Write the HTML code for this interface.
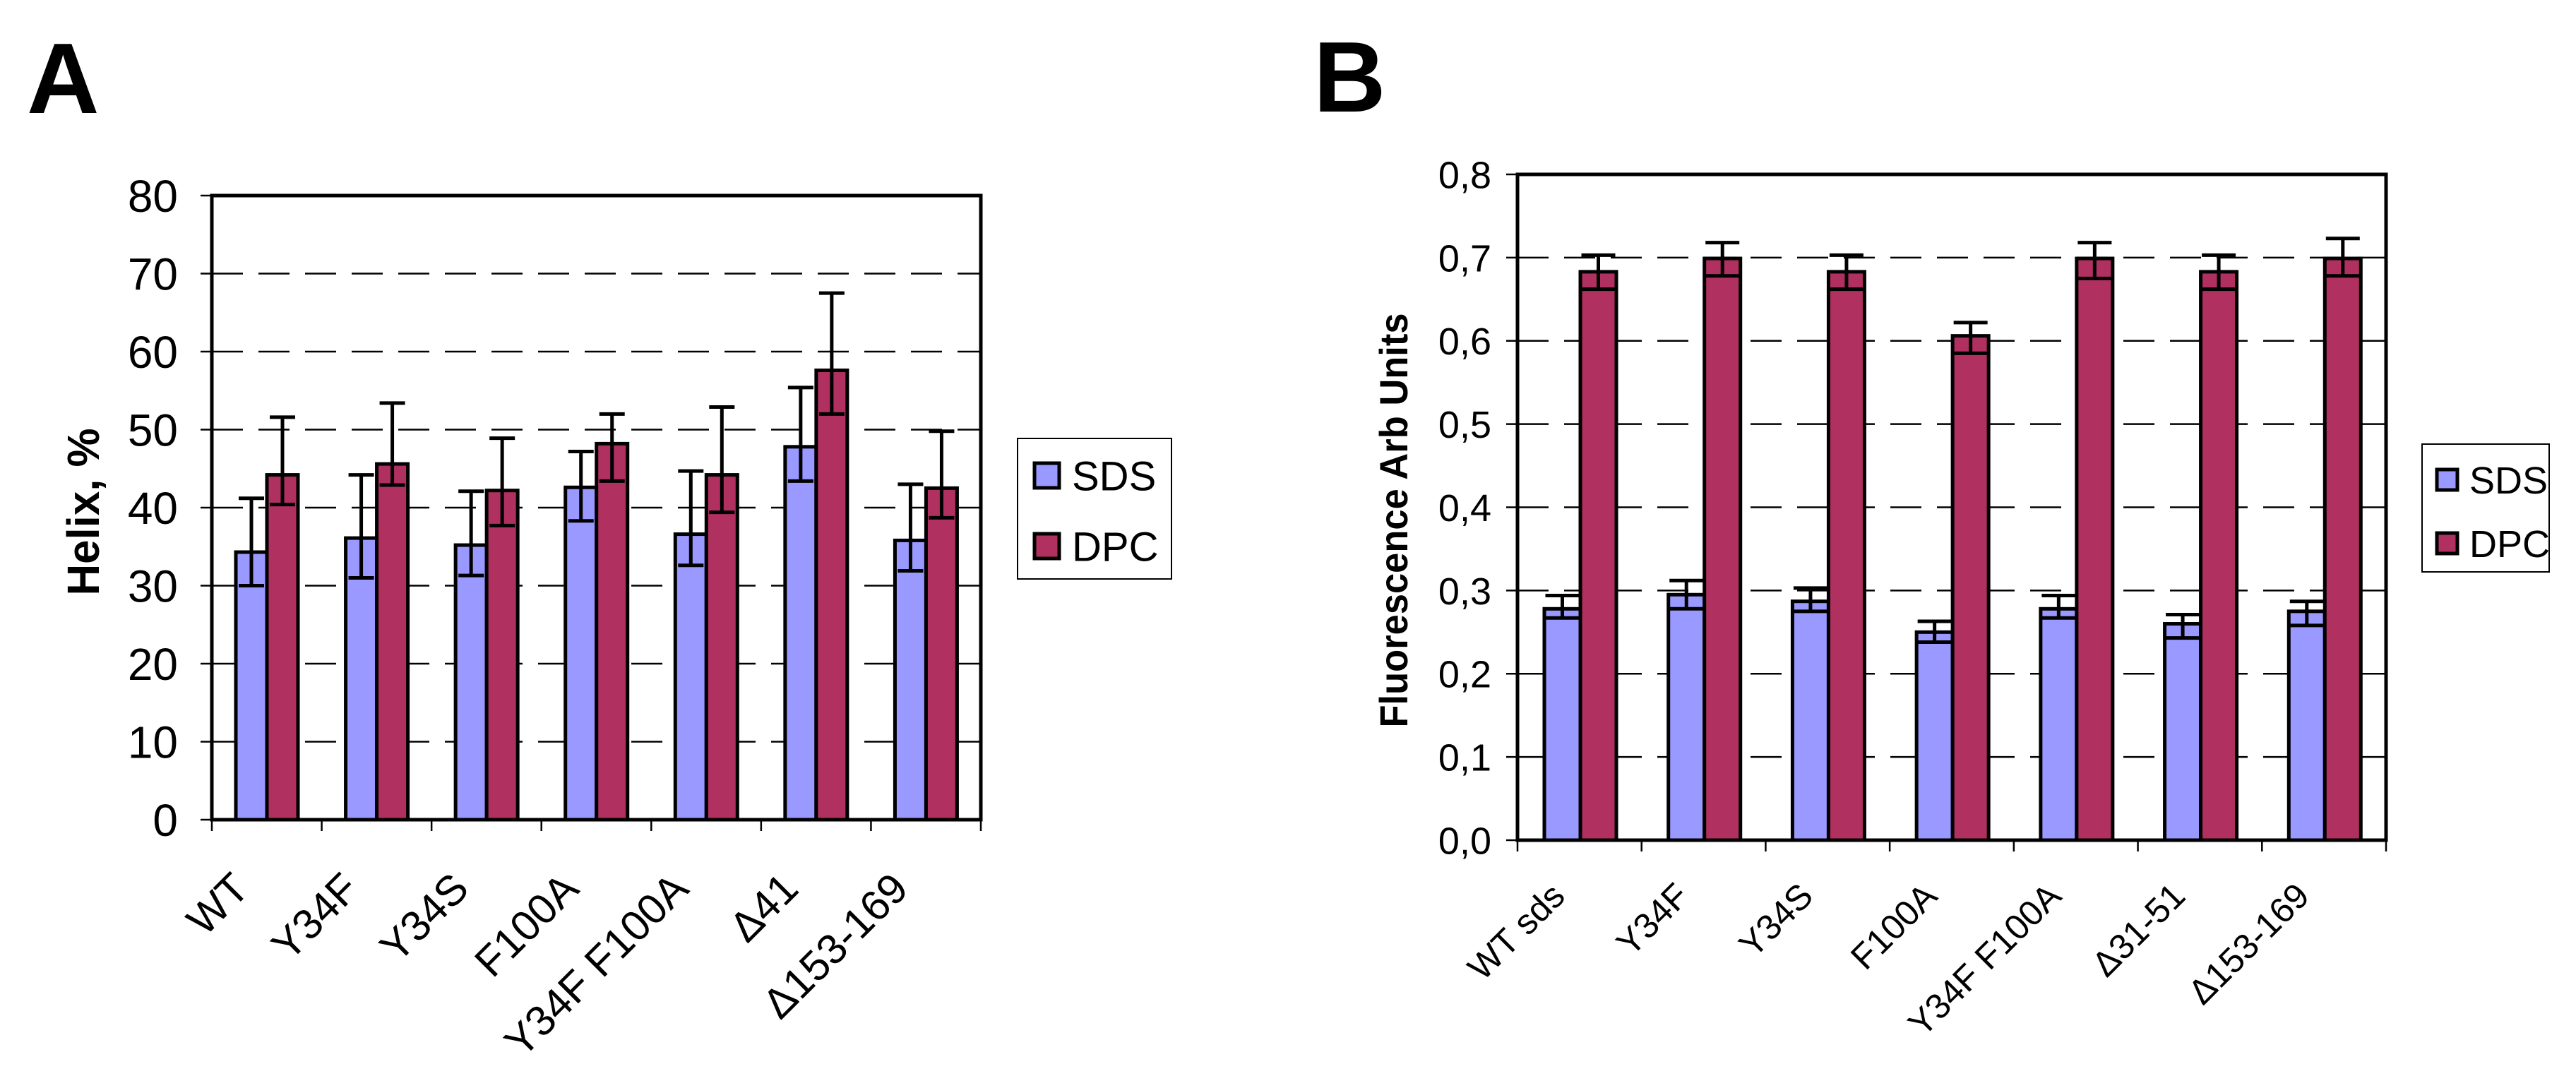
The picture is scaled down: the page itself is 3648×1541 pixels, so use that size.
<!DOCTYPE html>
<html><head><meta charset="utf-8"><style>
html,body{margin:0;padding:0;background:#fff;}
svg{display:block;font-family:"Liberation Sans",Arial,sans-serif;}
</style></head><body>
<svg id="fig" width="3648" height="1541" viewBox="0 0 3648 1541" xmlns="http://www.w3.org/2000/svg">
<rect x="0" y="0" width="3648" height="1541" fill="#fff"/>
<text x="38" y="160" font-size="142" font-weight="bold">A</text>
<text x="1860" y="158" font-size="142" font-weight="bold">B</text>
<g id="chartA"></g>
<g id="chartB"></g>
</svg>
<script>
// Panel A data
const catsA = ["WT","Y34F","Y34S","F100A","Y34F F100A","Δ41","Δ153-169"];
const sdsA = [34.3,36.1,35.2,42.6,36.6,47.8,35.8];
const sdsAUp = [6.9,8.1,6.9,4.6,8.1,7.6,7.2];
const sdsADown = [4.3,5.1,3.9,4.3,4.0,4.4,3.9];
const dpcA = [44.2,45.6,42.2,48.2,44.2,57.6,42.5];
const dpcAUp = [7.4,7.8,6.7,3.8,8.7,9.9,7.3];
const dpcADown = [3.8,2.7,4.5,4.8,4.8,5.6,3.8];
const ticksA = ["0","10","20","30","40","50","60","70","80"];
const tickValsA = [0,10,20,30,40,50,60,70,80];
// Panel B data
const catsB = ["WT sds","Y34F","Y34S","F100A","Y34F F100A","Δ31-51","Δ153-169"];
const sdsB = [0.278,0.295,0.287,0.250,0.278,0.260,0.275];
const sdsBUp = [0.016,0.017,0.016,0.013,0.016,0.011,0.012];
const sdsBDown = [0.011,0.017,0.012,0.012,0.011,0.017,0.017];
const dpcB = [0.683,0.699,0.683,0.606,0.699,0.683,0.699];
const dpcBUp = [0.020,0.019,0.020,0.016,0.019,0.020,0.024];
const dpcBDown = [0.021,0.021,0.021,0.021,0.024,0.021,0.021];
const ticksB = ["0,0","0,1","0,2","0,3","0,4","0,5","0,6","0,7","0,8"];
const tickValsB = [0,0.1,0.2,0.3,0.4,0.5,0.6,0.7,0.8];

const NS="http://www.w3.org/2000/svg";
function mk(tag, attrs, parent){const e=document.createElementNS(NS,tag);for(const k in attrs)e.setAttribute(k,attrs[k]);parent.appendChild(e);return e;}

function draw(g, cfg){
  const {L,T,R,B,max,cats,s1,s1u,s1d,s2,s2u,s2d,ticks,tickVals,tickFont,tickRight,barOff,barW,cap,labFont,labDx,labY,title,titleX,titleY,titleFont,titleLen,leg} = cfg;
  const y = v => B - (v/max)*(B-T);
  const gw = (R-L)/cats.length;
  const x = i => L + i*gw;
  tickVals.forEach((v,i)=>{
    if(v>0 && v<max){
      const gl = mk('line',{x1:L,x2:R,y1:y(v),y2:y(v),stroke:'#000','stroke-width':2.5,'stroke-dasharray':'44 22'},g);
      
      
    }
    const tk = mk('line',{x1:L-16,x2:L,y1:y(v),y2:y(v),stroke:'#000','stroke-width':2.5},g);
    
    
    const t = mk('text',{x:tickRight,y:y(v)+tickFont*0.36,'font-size':tickFont,'text-anchor':'end'},g);
    t.textContent = ticks[i];
    
    
  });
  cats.forEach((c,i)=>{
    const x1 = x(i)+barOff, x2 = x1+barW;
    const b1 = mk('rect',{x:x1,y:y(s1[i]),width:barW,height:B-y(s1[i]),fill:'#9999ff',stroke:'#000','stroke-width':5},g);
    
    
    const b2 = mk('rect',{x:x2,y:y(s2[i]),width:barW,height:B-y(s2[i]),fill:'#b03060',stroke:'#000','stroke-width':5},g);
    
    
    [[x1+barW/2,s1[i],s1u[i],s1d[i],'sds'],[x2+barW/2,s2[i],s2u[i],s2d[i],'dpc']].forEach(([cx,v,u,d,nm])=>{
      const e = mk('path',{d:`M${cx} ${y(v+u)}V${y(v-d)}M${cx-cap} ${y(v+u)}H${cx+cap}M${cx-cap} ${y(v-d)}H${cx+cap}`,stroke:'#000','stroke-width':5,fill:'none'},g);
      
      
    });
    const xt = mk('line',{x1:x(i),x2:x(i),y1:B,y2:B+16,stroke:'#000','stroke-width':2.5},g);
    
    
    const cx = x(i)+gw/2+labDx;
    const lt = mk('text',{x:cx,y:labY,'font-size':labFont,'text-anchor':'end',transform:`rotate(-45 ${cx} ${labY})`},g);
    lt.textContent = c;
    
    
  });
  const xt2 = mk('line',{x1:R,x2:R,y1:B,y2:B+16,stroke:'#000','stroke-width':2.5},g);
  
  
  const fr = mk('rect',{x:L,y:T,width:R-L,height:B-T,fill:'none',stroke:'#000','stroke-width':5},g);
  
  
  const tt = mk('text',{x:titleX,y:titleY,'font-size':titleFont,'font-weight':'bold','text-anchor':'middle',textLength:titleLen,lengthAdjust:'spacingAndGlyphs',transform:`rotate(-90 ${titleX} ${titleY})`},g);
  tt.textContent = title;
  
  
  const lb = mk('rect',{x:leg.x,y:leg.y,width:leg.w,height:leg.h,fill:'#fff',stroke:'#000','stroke-width':2},g);
  
  
  [['SDS','#9999ff',leg.m1],['DPC','#b03060',leg.m2]].forEach(([n,col,my])=>{
    const m = mk('rect',{x:leg.mx,y:my,width:leg.ms,height:leg.ms,fill:col,stroke:'#000','stroke-width':5},g);
    
    
    const t = mk('text',{x:leg.tx,y:my+leg.ms/2+leg.f*0.36,'font-size':leg.f},g);
    t.textContent = n;
    
    
  });
}

draw(document.getElementById('chartA'),{L:300,T:277,R:1389,B:1161,max:80,cats:catsA,s1:sdsA,s1u:sdsAUp,s1d:sdsADown,s2:dpcA,s2u:dpcAUp,s2d:dpcADown,
  ticks:ticksA,tickVals:tickValsA,tickFont:64,tickRight:252,barOff:34,barW:44,cap:18,labFont:60,labDx:-22,labY:1262,
  title:"Helix, %",titleX:140,titleY:725,titleFont:64,titleLen:237,
  leg:{x:1441,y:621,w:218,h:199,mx:1465,ms:35,m1:656,m2:756,tx:1518,f:58}});
draw(document.getElementById('chartB'),{L:2149,T:247,R:3379,B:1190,max:0.8,cats:catsB,s1:sdsB,s1u:sdsBUp,s1d:sdsBDown,s2:dpcB,s2u:dpcBUp,s2d:dpcBDown,
  ticks:ticksB,tickVals:tickValsB,tickFont:54,tickRight:2112,barOff:38,barW:51,cap:24,labFont:50,labDx:-18,labY:1272,
  title:"Fluorescence Arb Units",titleX:1993,titleY:737,titleFont:56,titleLen:587,
  leg:{x:3430,y:629,w:180,h:181,mx:3451,ms:29,m1:665,m2:755,tx:3497,f:54}});
</script>
</body></html>
